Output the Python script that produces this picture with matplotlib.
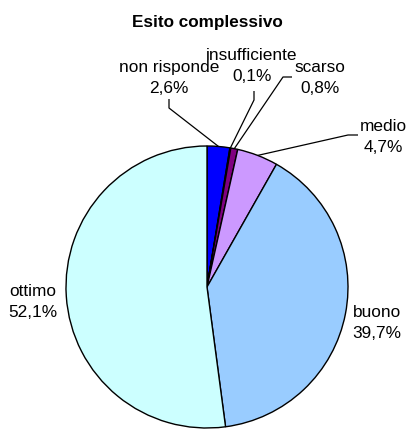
import numpy as np
import matplotlib
matplotlib.use("Agg")
import matplotlib.pyplot as plt

plt.rcParams['font.family'] = ['Liberation Sans', 'DejaVu Sans']

# Survey outcome shares (percent)
categories = ["non risponde", "insufficiente", "scarso", "medio", "buono", "ottimo"]
values = [2.6, 0.1, 0.8, 4.7, 39.7, 52.1]
colors = ["#0000FF", "#000000", "#800080", "#CC99FF", "#99CCFF", "#CCFFFF"]
title = "Esito complessivo"

W, H = 409, 429
fig = plt.figure(figsize=(W / 100, H / 100), dpi=100)
ax = fig.add_axes([0, 0, 1, 1])

cx, cy, r = 207, H - 287, 141
ax.pie(values, colors=colors, startangle=90, counterclock=False,
       center=(cx, cy), radius=r, frame=True,
       wedgeprops=dict(edgecolor="black", linewidth=1.0))
ax.set_xlim(0, W)
ax.set_ylim(0, H)
ax.set_aspect("equal")
ax.axis("off")

def fmt(v):
    return f"{v:.1f}".replace(".", ",") + "%"

# label centres (pixel coords from top) and leader-line anchors
label_pos = {
    "non risponde": (169, 78),
    "insufficiente": (252, 66),
    "scarso": (320, 78),
    "medio": (383, 137),
    "buono": (377, 323),
    "ottimo": (33, 302),
}
leader = {
    "non risponde": [(169, 99), (169, 108)],
    "insufficiente": [(254, 91), (254, 100)],
    "scarso": [(292, 77), (283, 77)],
    "medio": [(358, 135), (348, 135)],
}

total = sum(values)
cum = 0.0
for name, v in zip(categories, values):
    mid = (cum + v / 2) / total * 360
    cum += v
    x, y = label_pos[name]
    ax.text(x, H - y, f"{name}\n{fmt(v)}", ha="center", va="center",
            fontsize=12.4, linespacing=1.45, color="black")
    if name in leader:
        ex = cx + r * np.sin(np.radians(mid))
        ey = cy + r * np.cos(np.radians(mid))
        pts = leader[name]
        xs = [p[0] for p in pts] + [ex]
        ys = [H - p[1] for p in pts] + [ey]
        ax.plot(xs, ys, color="black", linewidth=0.9, solid_capstyle="butt")

ax.text(207, H - 23, title, ha="center", va="center", fontsize=12.3,
        fontweight="bold")

fig.savefig("out.png", dpi=100)
